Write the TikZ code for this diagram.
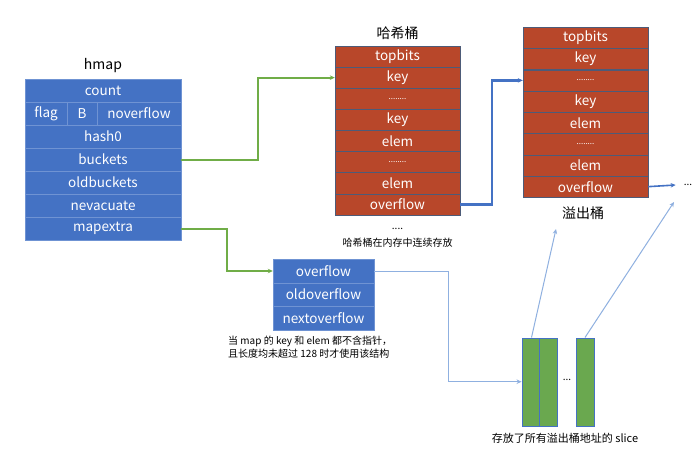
\documentclass[tikz,border=0pt]{standalone}
\usepackage{fontspec}
\setmainfont{Noto Sans CJK SC}
\usetikzlibrary{arrows.meta}
\definecolor{cellblue}{HTML}{4472C4}
\definecolor{sepblue}{HTML}{6F93D3}
\definecolor{cellred}{HTML}{B8472A}
\definecolor{sepred}{HTML}{4D5B78}
\definecolor{slicegreen}{HTML}{6AA84F}
\definecolor{linkgreen}{HTML}{70AD47}
\definecolor{linkblue}{HTML}{4472C4}
\definecolor{linklight}{HTML}{8FB0E0}
\newcommand{\rowdots}{{\fontsize{8}{10}\selectfont ........}}

\tikzset{
  cell/.style={text=white, inner sep=0pt, font=\fontsize{13.5}{15}\selectfont},
  bluecell/.style={cell, draw=sepblue, fill=cellblue, minimum height=23},
  redcell/.style={cell, draw=sepred, fill=cellred, minimum width=125, minimum height=21.1},
  slicebar/.style={draw=linkblue, fill=slicegreen, minimum width=17.5, minimum height=88, inner sep=0pt},
  caption/.style={font=\fontsize{10}{12}\selectfont, inner sep=0pt},
  title/.style={font=\fontsize{14}{16}\selectfont, inner sep=0pt},
  greenlink/.style={draw=linkgreen, line width=2pt, ->},
  bluelink/.style={draw=linkblue, line width=2.6pt, ->},
  thinlink/.style={draw=linklight, line width=1pt, ->}
}

\begin{document}
\begin{tikzpicture}[x=1pt, y=-1pt, >={Stealth[length=5pt,width=4.5pt]}]
  \useasboundingbox[fill=white] (0,0) rectangle (694,452);

  % hmap
  \node[title] (hmaptitle) at (103,66) {hmap};
  \foreach \t/\n/\y in {count/hcount/90.5, hash0/hhash/136.5, buckets/hbuckets/159.5,
      oldbuckets/hold/182.5, nevacuate/hnev/205.5, mapextra/hmapextra/228.5}
    \node[bluecell, minimum width=156] (\n) at (103,\y) {\t};
  \node[bluecell, minimum width=42] (hflag) at (46,113.5) {flag};
  \node[bluecell, minimum width=30] (hB) at (82,113.5) {B};
  \node[bluecell, minimum width=84] (hnover) at (139,113.5) {noverflow};

  % buckets
  \node[title] (bktitle) at (397.5,33) {哈希桶};
  \foreach \t [count=\i] in {topbits,key,\rowdots,key,elem,\rowdots,elem,overflow}
    \node[redcell] (b\i) at (397.5,{56.55+21.1*(\i-1)}) {\t};
  \node[caption] (bkdots) at (397.5,229) {....};
  \node[caption] (bknote) at (397.5,243) {哈希桶在内存中连续存放};

  % overflow bucket
  \foreach \t [count=\i] in {topbits,key,\rowdots,key,elem,\rowdots,elem,overflow}
    \node[redcell] (o\i) at (585.5,{37.9+21.25*(\i-1)}) {\t};
  \node[title] (oftitle) at (583,213) {溢出桶};
  \node[caption] (ofmore) at (688,185) {...};

  % mapextra
  \foreach \t [count=\i] in {overflow,oldoverflow,nextoverflow}
    \node[bluecell, minimum width=101, minimum height=23.6] (e\i) at (323.5,{271+23.6*(\i-1)}) {\t};
  \node[caption, align=left, anchor=north west] (enote) at (228,336)
    {当 map 的 key 和 elem 都不含指针，\\[1pt]且长度均未超过 128 时才使用该结构};

  % slice
  \node[slicebar] (s1) at (530.5,381.7) {};
  \node[slicebar] (s2) at (548,381.7) {};
  \node[slicebar] (s3) at (585,381.7) {};
  \node[caption] (sdots) at (567,380) {...};
  \node[caption, font=\fontsize{11}{13}\selectfont] (snote) at (565,438) {存放了所有溢出桶地址的 slice};

  \coordinate (ofin) at (556,229);
  \coordinate (moreofin) at (674,202);

  % links
  \draw[greenlink] (hbuckets.east) -| ([xshift=-77]b2.west) -- (b2.west);
  \draw[greenlink] (hmapextra.east) -| ([xshift=-46]e1.west) -- (e1.west);
  \draw[bluelink] (b8.east) -| ([xshift=-31]o3.west) -- (o3.west);
  \draw[thinlink, line width=1.6pt, draw=linkblue] (o8.east) -- ([xshift=-8]ofmore.west);
  \draw[thinlink] (e1.east) -| ([xshift=-73]s1.west) -- (s1.west);
  \draw[thinlink] ([xshift=1]s1.north) -- (ofin);
  \draw[thinlink] (s3.north) -- (moreofin);
\end{tikzpicture}
\end{document}
